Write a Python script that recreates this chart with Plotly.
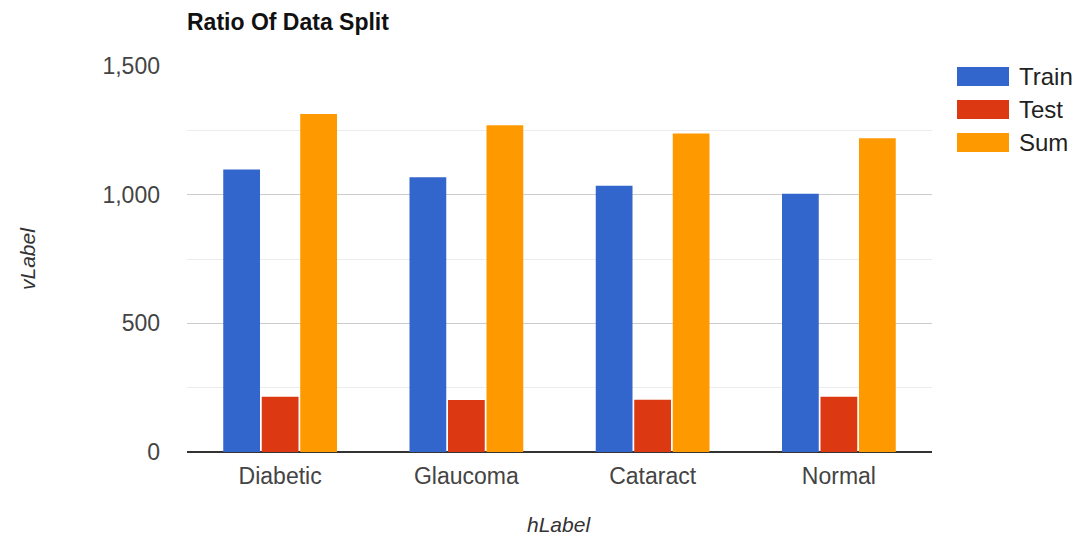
import plotly.graph_objects as go

# Data: image counts per class for each split
categories = ["Diabetic", "Glaucoma", "Cataract", "Normal"]
series_names = ["Train", "Test", "Sum"]
train_counts = [1098, 1068, 1035, 1004]
test_counts = [215, 202, 203, 215]
sum_counts = [1313, 1270, 1238, 1219]
y_ticks = [0, 500, 1000, 1500]

colors = ["#3366cc", "#dc3912", "#ff9900"]
values = [train_counts, test_counts, sum_counts]

W, H = 1083, 537
L, R, T, B = 187, 151, 66, 85
plot_w = W - L - R
plot_h = H - T - B


def px_to_paper(x_px, y_px):
    return (x_px - L) / plot_w, (H - B - y_px) / plot_h


FONT = "Arial, Liberation Sans, sans-serif"

fig = go.Figure()
for name, vals, col in zip(series_names, values, colors):
    fig.add_trace(go.Bar(
        x=categories, y=vals, name=name,
        marker=dict(color=col, line=dict(width=0)),
        showlegend=False,
    ))

# Custom legend: wide colour swatches with labels on the right
shapes = []
annotations = []
for i, (name, col) in enumerate(zip(series_names, colors)):
    cy = 76.5 + 33 * i
    x0, y0 = px_to_paper(957, cy + 9.5)
    x1, y1 = px_to_paper(1009, cy - 9.5)
    shapes.append(dict(type="rect", xref="paper", yref="paper",
                       x0=x0, x1=x1, y0=y0, y1=y1,
                       fillcolor=col, line=dict(width=0)))
    tx, ty = px_to_paper(1017, cy)
    annotations.append(dict(xref="paper", yref="paper", x=tx, y=ty,
                            text=name, showarrow=False,
                            xanchor="left", yanchor="middle",
                            font=dict(family=FONT, size=24, color="#222222")))

# Axis titles
hx, hy = px_to_paper(559, 524)
annotations.append(dict(xref="paper", yref="paper", x=hx, y=hy, text="<i>hLabel</i>",
                        showarrow=False, xanchor="center", yanchor="middle",
                        font=dict(family=FONT, size=21, color="#333333")))
vx, vy = px_to_paper(27, 259)
annotations.append(dict(xref="paper", yref="paper", x=vx, y=vy, text="<i>vLabel</i>",
                        showarrow=False, xanchor="center", yanchor="middle", textangle=-90,
                        font=dict(family=FONT, size=21, color="#333333")))

fig.update_layout(
    width=W, height=H,
    margin=dict(l=L, r=R, t=T, b=B, pad=0),
    paper_bgcolor="white", plot_bgcolor="white",
    barmode="group", bargap=0.38, bargroupgap=0.045,
    title=dict(text="<b>Ratio Of Data Split</b>", xref="paper", x=0.0,
               yref="container", y=1 - 22 / H, xanchor="left", yanchor="middle",
               font=dict(family=FONT, size=23, color="#111111")),
    font=dict(family=FONT, color="#444444"),
    shapes=shapes,
    annotations=annotations,
)

fig.update_xaxes(
    showgrid=False, showline=False, zeroline=False,
    ticks="", ticklabelstandoff=8,
    tickfont=dict(family=FONT, size=23, color="#444444"),
)

fig.update_yaxes(
    range=[0, 1500], tickvals=y_ticks, tickformat=",d",
    showgrid=True, gridcolor="#cccccc", gridwidth=1,
    minor=dict(dtick=250, showgrid=True, gridcolor="#ececec", gridwidth=1),
    zeroline=True, zerolinecolor="#333333", zerolinewidth=2,
    showline=False, ticks="", ticklabelstandoff=26,
    tickfont=dict(family=FONT, size=23, color="#444444"),
)

fig.write_html("out.html")
